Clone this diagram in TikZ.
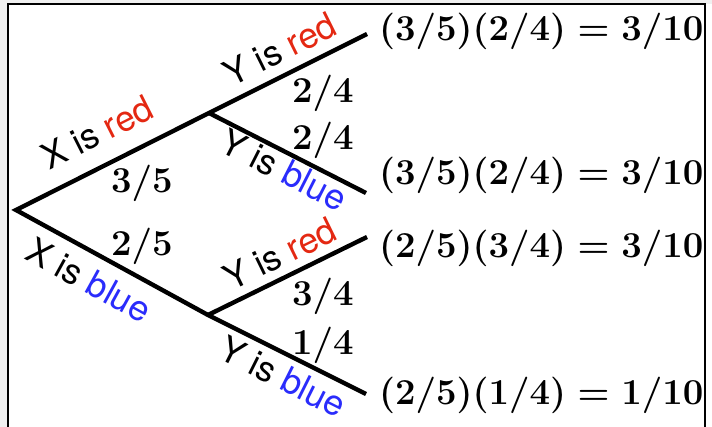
\RequirePackage{fix-cm}
\documentclass[tikz,border=0pt]{standalone}
\usepackage{fontspec}
\newfontfamily\hv{TeX Gyre Heros}
\definecolor{lred}{RGB}{228,40,18}
\definecolor{lblue}{RGB}{42,44,252}
\definecolor{bggray}{RGB}{240,240,240}
\tikzset{
  branch/.style={line width=4.4pt, line cap=butt, line join=miter},
  lab/.style={font=\hv\fontsize{35.5}{36}\selectfont, inner sep=0pt, anchor=center},
  fraclab/.style={font=\fontsize{36.5}{37}\selectfont\boldmath, inner sep=0pt, anchor=center},
  reslab/.style={font=\fontsize{36.5}{37}\selectfont\boldmath, inner sep=0pt, anchor=west},
}
\begin{document}
\begin{tikzpicture}[x=1pt,y=-1pt]
\useasboundingbox (0,0) rectangle (712,427);
\fill[bggray] (0,0) rectangle (712,427);
\fill[white] (8,4) rectangle (712,427);
\draw[line width=2.2pt] (8,430) -- (8,4) -- (705,4) -- (705,430);

\coordinate (root) at (16,210);
\coordinate (j1) at (209,113);
\coordinate (j2) at (208,315);
\coordinate (e1) at (367,34);
\coordinate (e2) at (366,193);
\coordinate (e3) at (367,237);
\coordinate (e4) at (366,394);

\draw[branch] (e1) -- (j1) -- (root) -- (j2) -- (e4);
\draw[branch] (j1) -- (e2);
\draw[branch] (j2) -- (e3);

\node[lab, rotate=26.8] (lxr) at (97,132) {X is \textcolor{lred}{red}};
\node[lab, rotate=-28.8] (lxb) at (89,280) {X is \textcolor{lblue}{blue}};
\node[lab, rotate=26.4] (lyr1) at (280,49) {Y is \textcolor{lred}{red}};
\node[lab, rotate=-26.9] (lyb1) at (284,170) {Y is \textcolor{lblue}{blue}};
\node[lab, rotate=26] (lyr2) at (280,254) {Y is \textcolor{lred}{red}};
\node[lab, rotate=-26.6] (lyb2) at (283,377) {Y is \textcolor{lblue}{blue}};

\node[fraclab] (pa) at (142,183) {$3/5$};
\node[fraclab] (pb) at (142,246) {$2/5$};
\node[fraclab] (pc) at (323,93) {$2/4$};
\node[fraclab] (pd) at (323,140) {$2/4$};
\node[fraclab] (pe) at (323,296) {$3/4$};
\node[fraclab] (pf) at (323,345) {$1/4$};

\node[reslab] (ra) at (379,31) {$(3/5)(2/4)=3/10$};
\node[reslab] (rb) at (379,175) {$(3/5)(2/4)=3/10$};
\node[reslab] (rc) at (379,248) {$(2/5)(3/4)=3/10$};
\node[reslab] (rd) at (379,395) {$(2/5)(1/4)=1/10$};
\end{tikzpicture}
\end{document}
